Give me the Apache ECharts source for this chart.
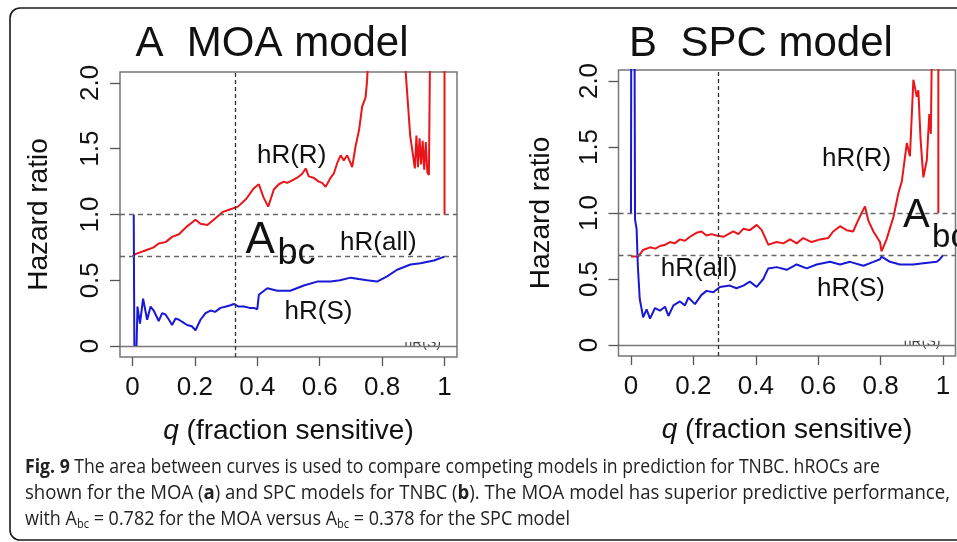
<!DOCTYPE html>
<html>
<head>
<meta charset="utf-8">
<script src="https://cdn.jsdelivr.net/npm/echarts@6/dist/echarts.min.js"></script>
<style>
  html, body { margin: 0; padding: 0; background: #fff; }
  #chart { width: 957px; height: 542px; }
</style>
</head>
<body>
<div id="chart"></div>
<script>
// ---- axis ticks ----
const xTicks = [0, 0.2, 0.4, 0.6, 0.8, 1];
const xTickLabels = ['0', '0.2', '0.4', '0.6', '0.8', '1'];
const yTicks = [0, 0.5, 1, 1.5, 2];
const yTickLabels = ['0', '0.5', '1.0', '1.5', '2.0'];

// ---- MOA model: hR(R) (resistant) ----
const moaQR = [0.0, 0.01, 0.022, 0.045, 0.068, 0.084, 0.106, 0.127, 0.149, 0.175, 0.202, 0.218, 0.24, 0.265,
  0.29, 0.314, 0.338, 0.365, 0.389, 0.405, 0.42, 0.435, 0.453, 0.469, 0.485, 0.496, 0.512, 0.528, 0.544,
  0.555, 0.565, 0.58, 0.597, 0.608, 0.619, 0.635, 0.645, 0.656, 0.667, 0.677, 0.688, 0.699, 0.704, 0.715,
  0.726, 0.736, 0.747, 0.752, 0.757, 0.8, 0.86, 0.875, 0.89, 0.905, 0.91, 0.915, 0.92, 0.925, 0.93, 0.935,
  0.94, 0.945, 0.95, 0.955, 0.955, 0.98, 1.0, 1.0];
const moaHrR = [0.68, 0.70, 0.71, 0.73, 0.75, 0.78, 0.79, 0.83, 0.85, 0.91, 0.96, 0.93, 0.92, 0.97,
  1.02, 1.04, 1.06, 1.12, 1.20, 1.23, 1.13, 1.06, 1.19, 1.23, 1.25, 1.24, 1.26, 1.28, 1.31,
  1.35, 1.29, 1.28, 1.25, 1.24, 1.21, 1.28, 1.31, 1.39, 1.45, 1.41, 1.45, 1.39, 1.36, 1.52,
  1.64, 1.82, 1.89, 2.02, 2.3, 2.7, 2.6, 2.1, 1.6, 1.35, 1.6, 1.36, 1.58, 1.38, 1.56, 1.34,
  1.55, 1.32, 1.30, 1.30, 2.6, 2.6, 2.6, 1.0];

// ---- MOA model: hR(S) (sensitive) ----
const moaQS = [0.004, 0.006, 0.013, 0.016, 0.024, 0.034, 0.047, 0.058, 0.068, 0.084, 0.095, 0.106, 0.117,
  0.127, 0.138, 0.149, 0.162, 0.175, 0.19, 0.202, 0.21, 0.218, 0.234, 0.25, 0.265, 0.282, 0.3, 0.314,
  0.325, 0.34, 0.357, 0.375, 0.389, 0.4, 0.405, 0.432, 0.464, 0.506, 0.549, 0.592, 0.635, 0.665, 0.699,
  0.725, 0.752, 0.784, 0.816, 0.848, 0.891, 0.923, 0.966, 1.0];
const moaHrS = [1.0, 0.0, 0.0, 0.30, 0.17, 0.36, 0.20, 0.30, 0.27, 0.19, 0.25, 0.24, 0.20,
  0.16, 0.21, 0.20, 0.18, 0.16, 0.15, 0.12, 0.16, 0.20, 0.25, 0.27, 0.26, 0.29, 0.30, 0.31,
  0.32, 0.30, 0.30, 0.29, 0.29, 0.28, 0.39, 0.44, 0.42, 0.42, 0.46, 0.49, 0.49, 0.50, 0.52,
  0.51, 0.50, 0.49, 0.53, 0.58, 0.62, 0.63, 0.65, 0.68];

// ---- SPC model: hR(R) ----
const spcQR = [0.0, 0.023, 0.039, 0.061, 0.078, 0.093, 0.11, 0.125, 0.14, 0.157, 0.173, 0.189, 0.21, 0.226,
  0.242, 0.258, 0.274, 0.296, 0.312, 0.328, 0.344, 0.36, 0.381, 0.403, 0.419, 0.44, 0.453, 0.467, 0.488,
  0.51, 0.531, 0.552, 0.579, 0.606, 0.632, 0.648, 0.67, 0.691, 0.712, 0.723, 0.739, 0.75, 0.761, 0.777,
  0.798, 0.803, 0.819, 0.841, 0.857, 0.868, 0.884, 0.894, 0.905, 0.916, 0.921, 0.928, 0.937, 0.948,
  0.956, 0.961, 0.966, 0.985, 0.985];
const spcHrR = [0.67, 0.67, 0.72, 0.74, 0.73, 0.75, 0.76, 0.78, 0.77, 0.80, 0.79, 0.82, 0.85, 0.86,
  0.83, 0.84, 0.83, 0.82, 0.84, 0.86, 0.84, 0.88, 0.87, 0.91, 0.87, 0.76, 0.77, 0.78, 0.77,
  0.80, 0.77, 0.81, 0.78, 0.80, 0.81, 0.86, 0.90, 0.87, 0.86, 0.92, 1.00, 1.05, 0.94, 0.86,
  0.78, 0.71, 0.80, 0.97, 1.15, 1.24, 1.53, 1.43, 2.01, 1.88, 1.93, 1.56, 1.27, 1.40,
  1.75, 1.60, 2.6, 2.6, 1.0];

// ---- SPC model: hR(S) ----
const spcQS = [0.0, 0.001, 0.011, 0.013, 0.018, 0.022, 0.028, 0.039, 0.05, 0.061, 0.077, 0.093, 0.109, 0.12,
  0.136, 0.157, 0.173, 0.184, 0.205, 0.226, 0.242, 0.264, 0.285, 0.317, 0.338, 0.36, 0.381, 0.403,
  0.424, 0.44, 0.467, 0.499, 0.531, 0.563, 0.595, 0.638, 0.67, 0.702, 0.745, 0.777, 0.798, 0.803,
  0.83, 0.862, 0.905, 0.937, 0.98, 0.99, 1.0];
const spcHrS = [1.0, 2.6, 2.6, 0.95, 0.88, 0.6, 0.35, 0.21, 0.27, 0.20, 0.28, 0.26, 0.29, 0.22,
  0.30, 0.33, 0.30, 0.36, 0.31, 0.38, 0.41, 0.40, 0.44, 0.45, 0.43, 0.45, 0.48, 0.44,
  0.50, 0.58, 0.59, 0.57, 0.61, 0.58, 0.61, 0.63, 0.61, 0.63, 0.60, 0.63, 0.65, 0.67,
  0.63, 0.61, 0.61, 0.62, 0.63, 0.65, 0.68];

// ---- reference levels ----
const hrNull = 1.0;
const moaHrAll = 0.68;
const spcHrAll = 0.68;
const moaCutoff = 0.33;
const spcCutoff = 0.285;

const RED = '#ea1519';
const BLUE = '#1818d6';
const PLOT_FONT = '"Liberation Sans", Arial, Helvetica, sans-serif';
const CAPTION_FONT = '"Open Sans", "Noto Sans", sans-serif';

const pairs = (xs, ys) => xs.map((x, i) => [x, ys[i]]);

const chart = echarts.init(document.getElementById('chart'), null, { renderer: 'canvas' });

function xAxisFor(gridIndex) {
  return {
    type: 'value', gridIndex, min: -0.04, max: 1.04,
    name: '{i|q} (fraction sensitive)',
    nameLocation: 'middle', nameGap: 60,
    nameTextStyle: {
      fontSize: 28, color: '#111', fontFamily: PLOT_FONT,
      rich: { i: { fontSize: 28, fontStyle: 'italic', color: '#111', fontFamily: PLOT_FONT } }
    },
    splitLine: { show: false },
    axisLine: { show: false, onZero: false },
    axisTick: { show: true, customValues: xTicks, length: 9, lineStyle: { color: '#555', width: 1.3 } },
    axisLabel: {
      customValues: xTicks, fontSize: 26, color: '#111', fontFamily: PLOT_FONT, margin: 18,
      formatter: v => xTickLabels[xTicks.indexOf(v)]
    }
  };
}

function yAxisFor(gridIndex, nameGap) {
  return {
    type: 'value', gridIndex, min: -0.0833, max: 2.0833,
    name: 'Hazard ratio', nameLocation: 'middle', nameGap, nameRotate: 90,
    nameTextStyle: { fontSize: 28, color: '#111', fontFamily: PLOT_FONT },
    splitLine: { show: false },
    axisLine: { show: false, onZero: false },
    axisTick: { show: true, customValues: yTicks, length: 10, lineStyle: { color: '#555', width: 1.3 } },
    axisLabel: {
      customValues: yTicks, rotate: 90, fontSize: 26, color: '#111', fontFamily: PLOT_FONT, margin: 16,
      formatter: v => yTickLabels[yTicks.indexOf(v)]
    }
  };
}

function refLines(hrAll, cutoff) {
  const dashed = { type: [5, 4], color: '#666', width: 1.3 };
  return {
    silent: true, symbol: ['none', 'none'], label: { show: false },
    animation: false,
    data: [
      { yAxis: 0, lineStyle: { type: 'solid', color: '#777', width: 1.4 } },
      { yAxis: hrNull, lineStyle: dashed },
      { yAxis: hrAll, lineStyle: dashed },
      { xAxis: cutoff, lineStyle: { type: [4, 3], color: '#333', width: 1.3 } }
    ]
  };
}

function curve(name, idx, data, color, marks) {
  const s = {
    name, type: 'line', xAxisIndex: idx, yAxisIndex: idx, data,
    showSymbol: false, symbol: 'none', clip: true, smooth: false,
    lineStyle: { color, width: 2 }, z: 3, silent: true
  };
  if (marks) s.markLine = marks;
  return s;
}

const baseOption = {
  animation: false,
  backgroundColor: '#fff',
  grid: [
    { left: 120, top: 72, width: 337, height: 285, show: true, borderColor: '#777', borderWidth: 1.5, backgroundColor: 'transparent' },
    { left: 618.5, top: 70, width: 337, height: 286, show: true, borderColor: '#777', borderWidth: 1.5, backgroundColor: 'transparent' }
  ],
  xAxis: [xAxisFor(0), xAxisFor(1)],
  yAxis: [yAxisFor(0, 67), yAxisFor(1, 63)],
  series: [
    curve('hR(R) MOA', 0, pairs(moaQR, moaHrR), RED, refLines(moaHrAll, moaCutoff)),
    curve('hR(S) MOA', 0, pairs(moaQS, moaHrS), BLUE),
    curve('hR(R) SPC', 1, pairs(spcQR, spcHrR), RED, refLines(spcHrAll, spcCutoff)),
    curve('hR(S) SPC', 1, pairs(spcQS, spcHrS), BLUE)
  ]
};

chart.setOption(baseOption);

// annotation texts placed in data space of each panel
function plotText(gridIndex, q, v, text, size, align) {
  const p = chart.convertToPixel({ gridIndex }, [q, v]);
  return {
    type: 'text', x: p[0], y: p[1], z: 10,
    style: { text, fontSize: size, fontFamily: PLOT_FONT, fill: '#111', align: align || 'center', verticalAlign: 'middle' }
  };
}

// faint, half-hidden legend remnant near the zero line
function remnant(gridIndex, q) {
  const p = chart.convertToPixel({ gridIndex }, [q, 0.02]);
  return [
    { type: 'text', x: p[0], y: p[1], z: 4,
      style: { text: 'hR(S)', fontSize: 14, fontFamily: PLOT_FONT, fill: '#444', align: 'center', verticalAlign: 'middle' } },
    { type: 'rect', z: 5, shape: { x: p[0] - 22, y: p[1] - 12, width: 44, height: 10.5 }, style: { fill: '#fff' } }
  ];
}

// caption: each line compressed horizontally to its own width
const captionLines = [
  '{b|Fig. 9} The area between curves is used to compare competing models in prediction for TNBC. hROCs are',
  'shown for the MOA ({b|a}) and SPC models for TNBC ({b|b}). The MOA model has superior predictive performance,',
  'with A{sub|bc} = 0.782 for the MOA versus A{sub|bc} = 0.378 for the SPC model'
];
const captionWidths = [855, 925, 545];
const captionSize = 19.5;
const subSize = 12;
const ctx = document.createElement('canvas').getContext('2d');

function richWidth(line) {
  let w = 0;
  line.split(/(\{\w+\|[^}]*\})/).forEach(part => {
    if (!part) return;
    const m = part.match(/^\{(\w+)\|([^}]*)\}$/);
    if (m && m[1] === 'b') { ctx.font = 'bold ' + captionSize + 'px ' + CAPTION_FONT; w += ctx.measureText(m[2]).width; }
    else if (m && m[1] === 'sub') { ctx.font = subSize + 'px ' + CAPTION_FONT; w += ctx.measureText(m[2]).width; }
    else { ctx.font = captionSize + 'px ' + CAPTION_FONT; w += ctx.measureText(part).width; }
  });
  return w;
}

const captionRich = {
  b: { fontWeight: 'bold', fontSize: captionSize, fontFamily: CAPTION_FONT, fill: '#222', lineHeight: 24 },
  sub: { fontSize: subSize, fontFamily: CAPTION_FONT, fill: '#222', lineHeight: 24, verticalAlign: 'bottom' }
};
const captionRows = [467, 493, 519];
const caption = captionLines.map((t, i) => ({
  type: 'text', x: 25, y: captionRows[i], scaleX: captionWidths[i] / richWidth(t), z: 10,
  style: {
    text: t, fontSize: captionSize, fontFamily: CAPTION_FONT, fill: '#222',
    lineHeight: 24, verticalAlign: 'middle', align: 'left', rich: captionRich
  }
}));

const graphics = [
  { type: 'rect', z: 1, shape: { x: 10, y: 8, width: 1000, height: 532, r: 10 },
    style: { fill: 'none', stroke: '#1a1a1a', lineWidth: 1.6 } },
  { type: 'text', x: 272, y: 44.5, z: 10,
    style: { text: 'A  MOA model', fontSize: 42, fontFamily: PLOT_FONT, fill: '#111', align: 'center', verticalAlign: 'middle' } },
  { type: 'text', x: 761, y: 44.5, z: 10,
    style: { text: 'B  SPC model', fontSize: 42, fontFamily: PLOT_FONT, fill: '#111', align: 'center', verticalAlign: 'middle' } },

  plotText(0, 0.51, 1.445, 'hR(R)', 26),
  plotText(0, 0.788, 0.783, 'hR(all)', 26),
  plotText(0, 0.596, 0.262, 'hR(S)', 26),
  plotText(0, 0.362, 0.80, 'A', 44, 'left'),
  plotText(0, 0.465, 0.70, 'bc', 36, 'left'),

  plotText(1, 0.723, 1.413, 'hR(R)', 26),
  plotText(1, 0.218, 0.576, 'hR(all)', 26),
  plotText(1, 0.705, 0.424, 'hR(S)', 26),
  plotText(1, 0.872, 0.975, 'A', 40, 'left'),
  plotText(1, 0.965, 0.81, 'bc', 33, 'left'),

  ...remnant(0, 0.93),
  ...remnant(1, 0.933),
  ...caption
];

chart.setOption({ graphic: graphics });
</script>
</body>
</html>
